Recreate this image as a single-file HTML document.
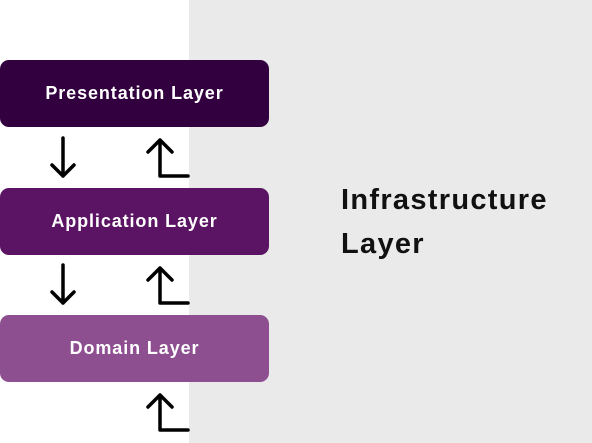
<!DOCTYPE html>
<html><head><style>
body{margin:0;width:592px;height:443px;position:relative;background:#fff;font-family:"Liberation Sans",sans-serif;overflow:hidden}
.g{position:absolute;left:189px;top:0;width:403px;height:443px;background:#ebeaea}
.b{position:absolute;left:0;width:269px;height:67px;border-radius:9px;color:#fff;font-weight:bold;font-size:18px;letter-spacing:0.9px;display:flex;align-items:center;justify-content:center}
.t{position:absolute;left:341px;top:178px;font-size:29px;font-weight:bold;line-height:44px;letter-spacing:1.3px;color:#111}
svg{position:absolute;left:0;top:0}
</style></head><body>
<div class="g"></div>
<div class="b" style="top:60px;background:#33003f">Presentation Layer</div>
<div class="b" style="top:188px;background:#5a1463">Application Layer</div>
<div class="b" style="top:315px;background:#8e4f91">Domain Layer</div>
<div class="t">Infrastructure<br>Layer</div>
<svg width="592" height="443" fill="none" stroke="#000" stroke-width="3.5" stroke-linecap="round" stroke-linejoin="round">
<path d="M63 138V176M52 165L63 176L74 165"/>
<path d="M63 265V303M52 292L63 303L74 292"/>
<path d="M160 140V176H188M148 152L160 140L172 152"/>
<path d="M160 268V303H188M148 280L160 268L172 280"/>
<path d="M160 395V430H188M148 407L160 395L172 407"/>
</svg>
</body></html>
